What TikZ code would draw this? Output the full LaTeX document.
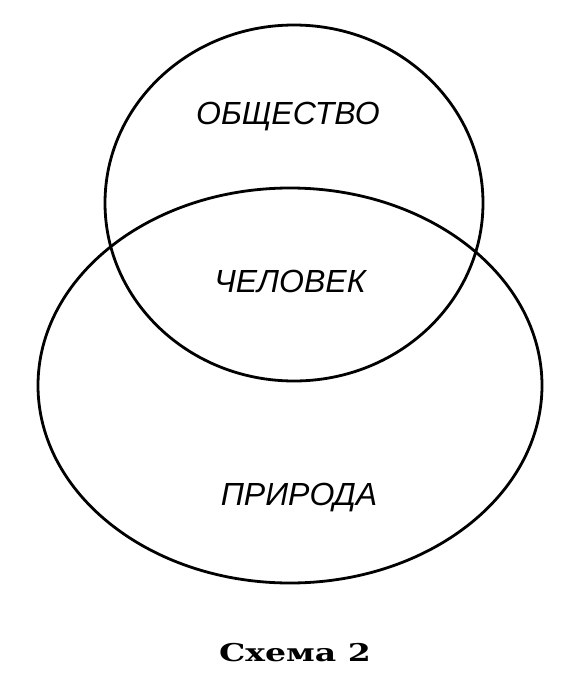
\documentclass[tikz,border=0pt]{standalone}
\usepackage{fontspec}
\setsansfont{Liberation Sans}
\newfontfamily\captionfont[FakeStretch=1.35]{DejaVu Serif}
\usetikzlibrary{shapes.geometric}

\tikzset{
  setring/.style={draw, ellipse, inner sep=0pt, line width=2.8pt},
  setlabel/.style={font=\sffamily\itshape\fontsize{32}{38}\selectfont, inner sep=0pt},
  caplabel/.style={font=\captionfont\bfseries\fontsize{24.5}{30}\selectfont, inner sep=0pt}
}

\begin{document}
\begin{tikzpicture}[x=1pt, y=-1pt]
\useasboundingbox (0,0) rectangle (565,699);
\node[setring, minimum width=378pt, minimum height=356pt] (society) at (294,203) {}; % upper circle
\node[setring, minimum width=504pt, minimum height=395pt] (nature) at (290,385.5) {}; % lower ellipse
\node[setlabel] (societytext) at (288,117) {ОБЩЕСТВО};
\node[setlabel] (mantext) at (290,281) {ЧЕЛОВЕК};
\node[setlabel] (naturetext) at (299,498) {ПРИРОДА};
\node[caplabel] (caption) at (295,652.5) {Схема 2};
\end{tikzpicture}
\end{document}
